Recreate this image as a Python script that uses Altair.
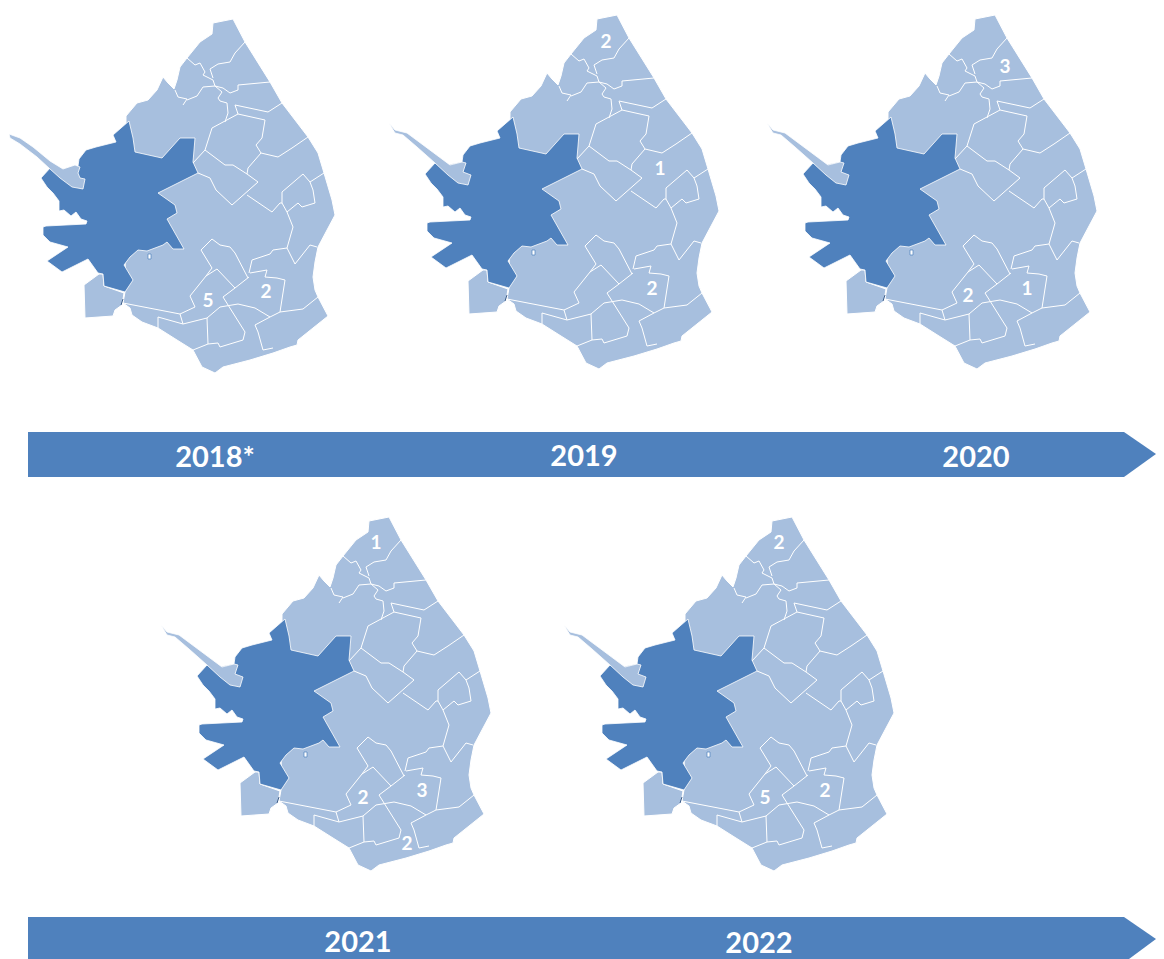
import altair as alt

W, H = 1148, 951
DARK_C, LIGHT_C = "#4F81BD", "#A7BFDE"

# Base map, in picture pixels of the first panel
OUTER = [(126,116),(137,103),(148,100),(157,90),(163,77),(168,83),(174,89),(177,80),(180,67),(187,58),(200,42),(212,34),(213,23),(233,19),(245,42),(270,82),(282,103),(308,137),(318,153),(324,173),(332,200),(335,215),(327,230),(318,247),(315,262),(313,277),(315,290),(318,297),(328,316),(298,340),(297,345),(290,347),(273,353),(250,360),(223,367),(215,373),(202,367),(193,350),(177,340),(158,328),(142,322),(132,315),(130,308),(123,303),(125,292)]
ISLAND = [(84,285),(99,274),(103,274),(104,286),(124,293),(122,305),(115,310),(113,316),(85,318)]
STRIP_FIRST = [(9,134),(20,138),(33,147),(50,161),(63,169),(75,165),(80,167),(78,173),(80,178),(85,179),(83,189),(72,187),(60,178),(50,169),(37,157),(20,144),(10,138)]
STRIP = [(5,127),(11,134),(23,137),(66,169),(78,166),(82,167),(79,176),(87,179),(84,189),(74,187),(64,179),(51,167),(33,151),(19,139),(11,137)]
DARK = [(129,121),(113,135),(116,142),(96,147),(86,150),(79,159),(78,166),(63,169),(51,167),(41,178),(47,187),(53,193),(59,201),(59,211),(64,210),(71,216),(76,212),(81,219),(87,221),(86,224),(46,226),(43,227),(43,235),(50,242),(68,247),(47,261),(62,272),(88,259),(98,273),(103,274),(104,286),(125,292),(133,280),(124,265),(130,257),(138,250),(147,251),(163,245),(167,242),(173,249),(184,249),(167,219),(177,213),(175,205),(158,193),(170,187),(198,173),(193,162),(195,138),(182,138),(180,138),(162,158),(135,152),(133,138)]
HOLE = [(148,254),(151,254),(151,259),(148,259)]
BORDERS = [
    [(245,42),(235,53),(230,62),(218,64),(210,69),(213,78)],
    [(187,58),(195,65),(200,63),(205,72),(203,75),(213,80),(215,86)],
    [(175,90),(178,97),(187,99),(183,105)],
    [(187,100),(197,96),(203,87),(215,86),(223,88),(230,93),(238,90),(238,85),(270,82)],
    [(215,86),(222,92),(218,98),(220,101),(227,103),(228,113),(225,122)],
    [(235,105),(268,112),(282,103)],
    [(235,105),(238,114),(265,120),(262,138),(256,145),(261,153),(248,168),(247,174),(233,165),(225,165),(205,150),(212,128),(238,114)],
    [(205,150),(193,163)],
    [(261,153),(278,157),(292,148),(308,137)],
    [(198,173),(210,178),(216,190),(232,205),(258,182),(247,174)],
    [(282,192),(303,174),(310,182),(324,173)],
    [(310,182),(313,190),(315,203),(302,207),(298,203),(287,212),(282,203),(280,203),(272,212),(247,195)],
    [(282,192),(282,203)],
    [(287,212),(293,227),(287,248),(295,264),(310,245),(317,247)],
    [(287,248),(273,250),(270,254),(252,260),(249,273)],
    [(212,239),(201,250),(212,268),(206,276),(217,269),(235,288),(249,277)],
    [(212,239),(220,245),(230,247),(235,253),(248,278)],
    [(235,288),(223,297),(245,332),(243,340),(220,347),(218,343),(208,344),(207,318),(220,307),(238,304),(255,308),(270,317)],
    [(206,276),(190,296),(195,307),(180,314),(183,324),(207,318)],
    [(250,273),(267,270),(265,277),(277,278),(285,280),(280,312),(270,317)],
    [(280,312),(303,309),(318,297)],
    [(270,317),(255,325),(258,332),(263,350),(273,348)],
    [(193,350),(208,344)],
    [(183,324),(158,317),(158,328)],
    [(180,314),(123,303)],
]
SLIVER = [(123,299),(121,305)]

# Panel shifts, from the first panel
PANEL_DX = [0, 384, 762, 156, 559]
PANEL_DY = [0, -4, -4, 498, 498]

ARROW_X = [28, 1124, 1156, 1124, 28]
ARROW1_Y = [432, 432, 454, 477, 477]
ARROW2_X = [28, 1124, 1156, 1129, 28]
ARROW2_Y = [917, 917, 939, 959, 959]

LABEL_TEXT = ["5","2","2","1","2","3","2","1","1","2","3","2","2","5","2"]
LABEL_X = [208,266,606,660,652,1005,968,1027,376,363,422,407,779,765,825]
LABEL_Y = [301,292,42,169,289,67,296,289,543,798,791,844,543,798,791]
YEAR_TEXT = ["2018*","2019","2020","2021","2022"]
YEAR_X = [215,584,976,358,759]
YEAR_Y = [458,457,458,943,944]


def to_page(pts, dx=0, dy=0):
    return [[x + dx - 8, y + dy - 8] for x, y in pts]


def poly(pts, dx=0, dy=0):
    ring = to_page(pts, dx, dy)
    return {"type": "Feature", "properties": {}, "geometry": {"type": "Polygon", "coordinates": [ring + [ring[0]]]}}


def multiline(lines, dx=0, dy=0):
    return {"type": "Feature", "properties": {}, "geometry": {"type": "MultiLineString",
            "coordinates": [to_page(l, dx, dy) for l in lines]}}


PANELS = list(zip(PANEL_DX, PANEL_DY))
light = [poly(OUTER, *p) for p in PANELS] + [poly(ISLAND, *p) for p in PANELS]
dark = [poly(DARK, *p) for p in PANELS]
strips = [poly(STRIP_FIRST)] + [poly(STRIP, *p) for p in PANELS[1:]]
lines = [multiline(BORDERS, *p) for p in PANELS]
holes = [poly(HOLE, *p) for p in PANELS]
slivers = [multiline([SLIVER], *p) for p in PANELS]
arrows = [poly(list(zip(ARROW_X, ARROW1_Y))), poly(list(zip(ARROW2_X, ARROW2_Y)))]
FRAME = {"type": "Feature", "properties": {}, "geometry": {"type": "Polygon",
         "coordinates": [[[0, 0], [W, 0], [W, H], [0, H], [0, 0]]]}}


def shapes(features, **mark):
    return alt.Chart(alt.Data(values=features)).mark_geoshape(**mark).project(
        type="identity", fit=FRAME, size=[W, H])


def texts(labels, xs, ys, size):
    rows = [{"t": t, "x": x - 8, "y": y - 8} for t, x, y in zip(labels, xs, ys)]
    return alt.Chart(alt.Data(values=rows)).mark_text(
        font="Lato", fontWeight="bold", fontSize=size, color="white", align="center", baseline="middle"
    ).encode(
        x=alt.X("x:Q", scale=alt.Scale(domain=[0, W], nice=False, zero=False), axis=None),
        y=alt.Y("y:Q", scale=alt.Scale(domain=[H, 0], nice=False, zero=False), axis=None),
        text="t:N",
    )


chart = alt.layer(
    shapes(light, fill=LIGHT_C, stroke="white", strokeWidth=1),
    shapes(dark, fill=DARK_C, stroke="white", strokeWidth=0.8),
    shapes(strips, fill=LIGHT_C, stroke="white", strokeWidth=0.8),
    shapes(lines, filled=False, stroke="white", strokeWidth=1),
    shapes(holes, fill="white", stroke=DARK_C, strokeWidth=0.7),
    shapes(slivers, filled=False, stroke="#3f5f8a", strokeWidth=1),
    shapes(arrows, fill=DARK_C, stroke=DARK_C, strokeWidth=0),
    texts(LABEL_TEXT, LABEL_X, LABEL_Y, 19),
    texts(YEAR_TEXT, YEAR_X, YEAR_Y, 29),
).properties(width=W, height=H, padding=0, background="white",
             autosize=alt.AutoSizeParams(type="none")).configure_view(stroke=None)

chart.save("out.html", embed_options={"renderer": "svg", "actions": False})
